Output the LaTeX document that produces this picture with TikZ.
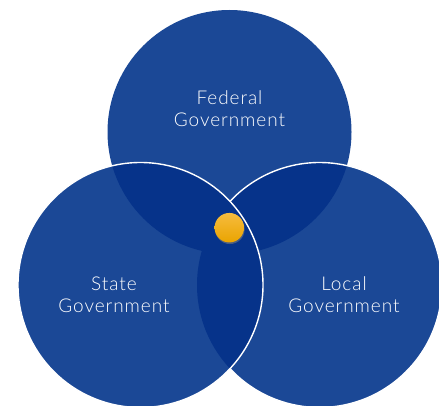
\documentclass[tikz,border=0pt]{standalone}
\usepackage{fontspec}
\setsansfont{Lato}[UprightFont=* Light, LetterSpace=5]
\usetikzlibrary{shadows}
\definecolor{base}{RGB}{27,72,150}
\definecolor{dark}{RGB}{6,51,138}
\definecolor{orangetop}{RGB}{246,188,62}
\definecolor{orangebot}{RGB}{234,164,0}
\tikzset{
  venn/.style={circle, fill=base, inner sep=0pt, outer sep=0pt, minimum size=245pt},
  lbl/.style={text=white, align=center, font=\sffamily\fontsize{19}{22}\selectfont},
  outline/.style={draw=white, line width=1.4pt}
}
\begin{document}
\begin{tikzpicture}[x=1pt,y=-1pt]
\useasboundingbox (0,0) rectangle (439,406);
\clip (0,0) rectangle (439,406);
\coordinate (T) at (229.5,132);
\coordinate (L) at (140.5,285);
\coordinate (R) at (319.5,285);
\node[venn, minimum size=244pt] (top) at (T) {};
\node[venn] (right) at (R) {};
\node[venn] (left) at (L) {};
\begin{scope}
  \clip (T) circle[radius=122];
  \fill[dark] (L) circle[radius=122.5];
  \fill[dark] (R) circle[radius=122.5];
\end{scope}
\begin{scope}
  \clip (L) circle[radius=122.5];
  \fill[dark] (R) circle[radius=122.5];
\end{scope}
\draw[outline] (R) ++(137:122.5) arc[start angle=137, end angle=-137, radius=122.5];
\draw[outline] (L) circle[radius=122.5];
\node[lbl] (fed) at (229.5,108.5) {Federal\\Government};
\node[lbl] (state) at (114,294.5) {State\\Government};
\node[lbl] (local) at (344,294.5) {Local\\Government};
\node[circle, inner sep=0pt, minimum size=29.5pt, top color=orangetop, bottom color=orangebot,
      drop shadow={shadow xshift=0.6pt, shadow yshift=-1.6pt, opacity=0.55}] (dot) at (229.3,227.7) {};
\end{tikzpicture}
\end{document}
